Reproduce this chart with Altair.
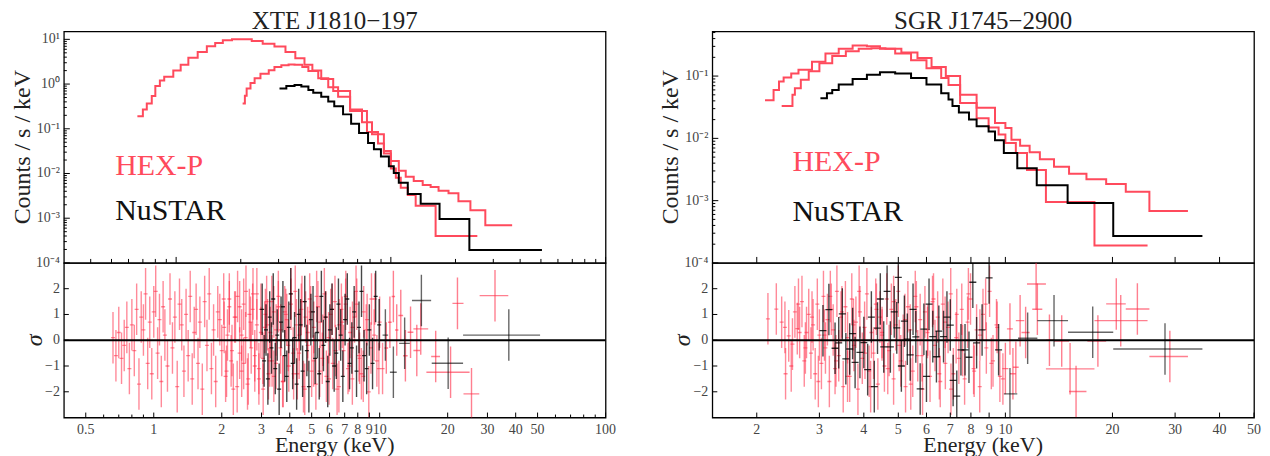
import altair as alt
import pandas as pd

FONT = "Liberation Serif"
RED_LINE = "#ff4a5c"
RED_BAR = "#ff2a45"
LABEL_COLOR = "#444444"
TITLE_COLOR = "#222222"
W = 543
H_TOP = 232
H_RES = 155

# ---------------- top panels: model step curves (bin start energy, counts/s/keV) ----------------
TL_LET_E = [0.66, 0.70, 0.73, 0.77, 0.80, 0.84, 0.88, 0.97, 1.05, 1.14, 1.26, 1.39, 1.52, 1.65, 1.82, 2.00, 2.25, 2.53,
            2.87, 3.23, 3.59, 3.96, 4.31, 4.74, 5.39, 6.46, 7.74, 8.71, 9.28, 10.0, 10.55, 11.12, 11.99, 13.05, 16.16, 25.28]
TL_LET_V = [0.19, 0.27, 0.37, 0.54, 0.90, 1.20, 1.45, 2.0, 2.7, 3.9, 5.2, 7.0, 8.3, 9.5, 10, 10, 9.2, 8.0,
            6.9, 5.2, 3.8, 2.7, 2.0, 1.3, 0.70, 0.25, 0.085, 0.047, 0.028, 0.013, 0.008, 0.0048, 0.0033, 0.0019, 0.0004, 0.0004]
TL_HET_E = [2.04, 2.09, 2.13, 2.22, 2.32, 2.47, 2.70, 2.87, 3.09, 3.34, 3.56, 3.87, 4.13, 4.59, 5.11, 5.68, 6.46, 7.34,
            8.17, 9.28, 10.0, 10.89, 11.73, 12.78, 14.07, 15.32, 16.68, 18.56, 20.64, 23.47, 27.54, 36.72]
TL_HET_V = [0.37, 0.55, 0.8, 1.05, 1.35, 1.7, 2.05, 2.4, 2.65, 2.75, 2.7, 2.4, 1.95, 1.35, 0.85, 0.52, 0.27, 0.14,
            0.075, 0.032, 0.019, 0.0115, 0.0085, 0.0068, 0.0055, 0.005, 0.0041, 0.0036, 0.0024, 0.0015, 0.0007, 0.0007]
TL_NU_E = [3.03, 3.26, 3.56, 3.83, 4.13, 4.35, 4.74, 5.11, 5.45, 5.99, 6.53, 7.11, 7.83, 8.34, 8.99, 9.79, 10.32,
           10.89, 11.99, 13.77, 16.86, 23.21, 50.55]
TL_NU_V = [0.80, 0.90, 0.95, 0.88, 0.74, 0.64, 0.52, 0.41, 0.32, 0.21, 0.13, 0.08, 0.048, 0.035, 0.024, 0.0145, 0.0103,
           0.0062, 0.0035, 0.0021, 0.00096, 0.000195, 0.000195]

TR_LET_E = [2.11, 2.23, 2.31, 2.38, 2.50, 2.62, 2.86, 3.12, 3.40, 3.72, 4.08, 4.44, 4.90, 5.43, 6.00, 6.60, 6.92, 7.46,
            8.30, 8.97, 9.57, 10.0, 10.7, 11.5, 13.0, 17.8, 25.1]
TR_LET_V = [0.041, 0.060, 0.082, 0.095, 0.11, 0.126, 0.17, 0.23, 0.275, 0.31, 0.30, 0.275, 0.23, 0.18, 0.134, 0.093,
            0.072, 0.037, 0.021, 0.015, 0.0115, 0.0084, 0.0058, 0.0031, 0.00095, 0.00019, 0.00019]
TR_HET_E = [2.35, 2.52, 2.56, 2.66, 2.80, 3.00, 3.26, 3.56, 3.87, 4.20, 4.60, 5.10, 5.66, 6.20, 6.80, 7.46, 8.30, 9.35,
            10.0, 10.4, 11.0, 11.7, 12.5, 13.7, 15.1, 16.9, 19.2, 21.8, 25.4, 32.6]
TR_HET_V = [0.033, 0.05, 0.064, 0.087, 0.12, 0.16, 0.21, 0.25, 0.275, 0.28, 0.275, 0.24, 0.195, 0.14, 0.1, 0.05, 0.031,
            0.0177, 0.0147, 0.0095, 0.0076, 0.006, 0.0046, 0.0035, 0.0027, 0.0022, 0.00185, 0.00139, 0.00068, 0.00068]
TR_NU_E = [3.02, 3.15, 3.26, 3.40, 3.72, 4.08, 4.44, 4.90, 5.43, 6.00, 6.60, 6.92, 7.10, 7.40, 7.90, 8.30, 8.97, 9.35,
           9.90, 10.8, 12.25, 14.96, 20.1, 35.8]
TR_NU_V = [0.044, 0.053, 0.06, 0.073, 0.09, 0.105, 0.115, 0.11, 0.093, 0.073, 0.053, 0.042, 0.033, 0.026, 0.02, 0.0156,
           0.0129, 0.0093, 0.0058, 0.0033, 0.00177, 0.00092, 0.00027, 0.00027]

# ---------------- residual panels (energy, sigma) ----------------
L_LET_E = [0.66, 0.68, 0.70, 0.72, 0.74, 0.76, 0.78, 0.80, 0.82, 0.84, 0.86, 0.88, 0.90, 0.92, 0.94, 0.96, 0.98, 1.00,
           1.02, 1.04, 1.06, 1.08, 1.10, 1.12, 1.15, 1.18, 1.21, 1.24, 1.27, 1.30, 1.33, 1.36, 1.39, 1.42, 1.45, 1.48,
           1.51, 1.54, 1.57, 1.60, 1.64, 1.68, 1.72, 1.76, 1.80, 1.84, 1.88, 1.92, 1.96, 2.00, 2.04, 2.08, 2.12, 2.16,
           2.20, 2.25, 2.30, 2.35, 2.40, 2.45, 2.50, 2.55, 2.60, 2.65, 2.70, 2.75, 2.80, 2.86, 2.92, 2.98, 3.04, 3.10,
           3.16, 3.22, 3.28, 3.34, 3.40, 3.48, 3.56, 3.65, 3.74, 3.84, 3.94, 4.05, 4.16, 4.28, 4.40, 4.53, 4.66, 4.80,
           4.95, 5.10, 5.26, 5.43, 5.60, 5.78, 5.97, 6.17, 6.38, 6.60, 6.83, 7.07, 7.32, 7.58, 7.86, 8.15, 8.46, 8.80,
           9.15, 9.52, 9.92]
L_LET_R = [0.1, -0.6, 0.3, -0.7, -0.2, 0.5, -1.1, 0.6, -0.4, 1.2, -1.7, 0.9, 0.4, 1.8, -0.9, 0.7, -1.3, 1.1, 1.9, -0.5,
           0.8, -1.6, 1.3, 0.2, -1.0, 1.6, -0.3, 0.9, -1.8, 1.4, 0.6, -1.2, 1.0, -0.6, 1.7, -1.5, 0.3, 1.2, -0.9, 0.7,
           -1.9, 1.5, -0.2, 1.8, -1.1, 0.4, -1.6, 1.1, 0.8, -0.4, 1.6, -1.4, 0.2, 1.3, -0.8, -1.9, 0.9, 1.7, -0.5, -1.2,
           1.4, 0.1, -1.7, 1.0, -0.3, 1.8, -1.0, 0.6, -1.5, 1.2, -0.7, 0.5, 1.5, -1.3, 0.3, -0.8, 1.1,
           -0.9, 1.3, 0.4, -1.6, 1.0, -0.2, 1.8, -1.3, 0.6, -0.5, 1.5, -1.9, 0.3, 1.1, -0.8, 1.7, -1.2, 0.0, 0.9, -1.5,
           1.2, -0.4, -1.8, 0.7, 1.4, -1.0, 0.5, 1.9, -0.7, -1.4, 0.8, -0.3, 1.6, -1.1]
L_HET_E = [2.05, 2.10, 2.16, 2.22, 2.28, 2.34, 2.40, 2.45, 2.50, 2.56, 2.62, 2.68, 2.74, 2.80, 2.86, 2.92, 2.98, 3.05,
           3.12, 3.19, 3.26, 3.33, 3.40, 3.48, 3.56, 3.64, 3.72, 3.80, 3.88, 3.96, 4.05, 4.14, 4.23, 4.32, 4.41, 4.50,
           4.60, 4.70, 4.80, 4.90, 5.00, 5.11, 5.22, 5.33, 5.45, 5.57, 5.69, 5.81, 5.94, 6.07, 6.20, 6.34, 6.48, 6.62,
           6.77, 6.92, 7.08, 7.24, 7.40, 7.57, 7.74, 7.92, 8.10, 8.30, 8.50, 8.72, 8.95, 9.20, 9.45, 9.72, 10.0, 10.3]
L_HET_R = [0.5, -1.2, 1.6, -0.4, 0.9, -1.8, 1.3, 0.2, -0.9, 1.9, -1.5, 0.7, 1.2, -0.6, 1.8, -1.1, 0.3, -1.9, 1.0, 0.6,
           -0.8, 1.5, -1.4, 0.4, 1.7, -0.3, -1.6, 1.1, 0.8, -1.0, 1.4, -0.5, 1.9, -1.3, 0.2, 1.2, -1.8, 0.9, -0.2, 1.6,
           -1.2, 0.5, -1.7, 1.3, 0.7, -0.7, 1.8, -1.4, 0.1, 1.0, -0.9, 1.5, -1.9, 0.6, 1.2, -0.4, 1.7, -1.1, 0.3, -1.5,
           0.9, 1.4, -0.6, -1.3, 1.1, 0.4, -2.0, 1.6, 0.2, -0.8, 0.7, -1.1]
L_RED_SP_E = [10.7, 11.1, 11.5, 11.9, 12.4, 13.0, 13.7, 14.6, 15.2, 17.7, 20.6, 22.1, 25.5, 32.4]
L_RED_SP_LO = [10.5, 10.9, 11.3, 11.7, 12.1, 12.7, 13.3, 14.1, 14.1, 16.9, 16.1, 21.0, 23.5, 27.7]
L_RED_SP_HI = [10.9, 11.3, 11.7, 12.1, 12.7, 13.3, 14.1, 15.1, 16.4, 18.5, 25.0, 23.5, 27.6, 37.1]
L_RED_SP_R = [-0.3, 0.7, 1.7, 0.4, 0.96, -0.6, 0.31, -0.4, 0.44, -0.63, -1.24, 1.43, -2.08, 1.73]

L_NU_E = [3.02, 3.08, 3.14, 3.20, 3.26, 3.32, 3.38, 3.45, 3.52, 3.59, 3.66, 3.73, 3.80, 3.88, 3.96, 4.04, 4.12, 4.20,
          4.29, 4.38, 4.47, 4.56, 4.66, 4.76, 4.86, 4.96, 5.07, 5.18, 5.29, 5.40, 5.52, 5.64, 5.76, 5.89, 6.02, 6.15,
          6.29, 6.43, 6.57, 6.72, 6.87, 7.03, 7.19, 7.36, 7.53, 7.71, 7.90, 8.10, 8.31, 8.53, 8.76, 9.00, 9.30, 9.60, 9.95]
L_NU_R = [1.2, -0.8, 0.4, -1.5, 0.9, -0.3, 1.6, -1.1, 0.2, -1.9, 0.7, 1.3, -0.6, -1.4, 0.5, 1.8, -0.9, 0.1, -1.7, 1.0,
          0.6, -1.2, 1.5, -0.4, -1.8, 0.8, 1.1, -0.7, 0.3, -1.3, 1.7, -0.2, 0.9, -1.6, 0.4, 1.2, -1.0, -0.5, 1.4, 0.2,
          -1.4, 0.8, 1.6, -0.9, -0.3, 1.1, -1.2, 0.5, 1.9, -0.6, -1.1, 0.4, -0.9, 1.7, 0.6]
L_NU_SP_E = [10.6, 11.5, 12.9, 15.3, 20.1, 37.3]
L_NU_SP_LO = [10.3, 11.1, 12.2, 13.9, 17.0, 23.4]
L_NU_SP_HI = [10.9, 11.9, 13.6, 16.9, 23.4, 51.3]
L_NU_SP_R = [0.2, -1.24, -0.12, 1.54, -0.89, 0.2]

R_LET_E = [2.15, 2.27, 2.35, 2.41, 2.46, 2.52, 2.56, 2.60, 2.64, 2.68, 2.72, 2.76, 2.80, 2.84, 2.88, 2.92, 2.96, 3.00,
           3.04, 3.08, 3.12, 3.16, 3.20, 3.24, 3.28, 3.32, 3.36, 3.40, 3.45, 3.50, 3.55, 3.60, 3.65, 3.70, 3.75, 3.80,
           3.85, 3.90, 3.96, 4.02, 4.08, 4.14, 4.20, 4.26, 4.32, 4.38, 4.44, 4.50, 4.57, 4.64, 4.71, 4.78, 4.85, 4.92,
           5.00, 5.08, 5.16, 5.24, 5.32, 5.40, 5.49, 5.58, 5.67, 5.76, 5.85, 5.94, 6.04, 6.14, 6.24, 6.34, 6.45, 6.56,
           6.67, 6.78, 6.90, 7.02, 7.14, 7.27, 7.40, 7.54, 7.68, 7.83, 7.98, 8.14, 8.30, 8.47, 8.65, 8.84, 9.03, 9.23,
           9.44, 9.65]
R_LET_R = [0.83, 1.21, 0.7, -1.3, 0.17, -0.15, 1.1, 0.45, 0.3, 1.5, -0.8, 0.3, 1.0, -0.5, 0.6, -1.3, 1.4, 0.2, -0.9, 1.7,
           -0.3, 0.8, -1.6, 1.2, 0.4, -1.1, 1.9, -0.6, 0.9, -1.8, 1.3, 0.1, -1.4, 1.6, -0.2, 0.7, -1.9, 1.1, -0.7, 0.5,
           1.8, -1.2, 0.3, -0.5, 1.4, -1.7, 0.9, 0.2, -1.0, 1.6, -0.4, 1.2, -1.5, 0.6, 1.9, -0.8, 0.0, -1.8, 1.3, 0.4,
           -1.2, 1.7, -0.6, 0.8, -1.9, 1.1, 0.3, -1.4, 1.5, -0.2, 0.9, -1.6, 1.4, -0.9, 0.5, 1.8, -1.3, 0.1, -0.7, 1.2,
           -1.5, 0.7, 1.6, -1.1, 0.4, -1.8, 1.0, -0.3, 1.9, -0.8, 0.6, -1.4]
R_HET_E = [2.40, 2.50, 2.62, 2.74, 2.86, 2.98, 3.10, 3.22, 3.34, 3.47, 3.60, 3.74, 3.88, 4.03, 4.18, 4.34, 4.50, 4.67,
           4.85, 5.03, 5.22, 5.42, 5.62, 5.83, 6.05, 6.28, 6.52, 6.77, 7.03, 7.30, 7.58, 7.87, 8.17, 8.48, 8.80, 9.13,
           9.48, 9.84]
R_HET_R = [0.5, -1.0, 1.4, -0.3, 0.9, -1.6, 0.2, 1.7, -0.8, 1.1, -1.4, 0.6, 1.9, -0.5, -1.8, 1.2, 0.3, -1.1, 1.5, -0.2,
           0.8, -1.7, 1.3, -0.6, 0.4, 1.6, -1.3, 0.7, -1.9, 1.0, -0.4, 1.8, -1.2, 0.2, 1.4, -0.9, 0.5, -1.5]
R_RED_SP_E = [10.0, 10.3, 10.5, 10.7, 11.0, 11.4, 12.2, 12.3, 13.3, 14.4, 15.2, 15.8, 18.2, 21.1, 20.5, 23.5, 29.0]
R_RED_SP_LO = [9.8, 10.1, 10.3, 10.5, 10.7, 11.1, 11.5, 11.9, 13.0, 13.7, 13.0, 15.1, 17.0, 17.8, 19.2, 21.8, 25.4]
R_RED_SP_HI = [10.2, 10.5, 10.7, 10.9, 11.3, 11.7, 13.0, 12.7, 13.7, 15.1, 17.8, 16.9, 19.2, 25.1, 21.8, 25.4, 32.6]
R_RED_SP_R = [-1.1, 0.44, -1.3, -1.05, 0.76, 0.3, 2.18, 1.2, 0.0, -0.03, -1.11, -1.99, -0.03, 0.76, 1.41, 1.21, -0.63]

R_NU_E = [3.07, 3.19, 3.32, 3.40, 3.48, 3.56, 3.65, 3.72, 3.78, 3.90, 4.00, 4.10, 4.20, 4.28, 4.37, 4.45, 4.55, 4.65,
          4.75, 4.87, 4.95, 5.00, 5.10, 5.20, 5.30, 5.40, 5.50, 5.60, 5.76, 5.90, 6.00, 6.10, 6.25, 6.40, 6.50, 6.70,
          6.85, 7.00, 7.13, 7.30, 7.50, 7.70, 7.90, 8.10, 8.30, 8.60, 9.00, 9.57]
R_NU_R = [0.37, 1.19, -0.31, -0.1, 1.02, -0.72, -0.34, 0.26, -0.86, -0.47, -0.09, -1.14, 0.9, -1.8, 0.47, 1.6, -0.26,
          1.9, -0.26, 1.1, 0.48, 2.44, -1.0, 0.74, 0.04, -0.57, 1.2, 0.13, -1.89, 0.43, -1.4, 1.4, 0.14, -0.64, 0.35,
          0.14, 0.9, 0.59, -1.56, -2.17, -0.37, -0.37, -0.66, 2.25, -0.1, 0.4, 2.42, -0.37]
R_NU_SP_E = [10.3, 11.55, 13.7, 17.6, 28.1]
R_NU_SP_LO = [9.9, 10.85, 12.3, 15.0, 20.1]
R_NU_SP_HI = [10.8, 12.3, 15.0, 20.1, 35.8]
R_NU_SP_R = [-2.08, 0.08, 0.76, 0.31, -0.34]

# ---------------- tick values and tick label texts ----------------
L_TOP_X_MAJ = [1, 10, 100]
L_TOP_X_MIN = [0.4, 0.5, 0.6, 0.7, 0.8, 0.9, 2, 3, 4, 5, 6, 7, 8, 9, 20, 30, 40, 50, 60, 70, 80, 90]
R_TOP_X_MAJ = [2, 3, 4, 5, 6, 7, 8, 9, 10, 20, 30, 40]
L_RES_X_VAL = [0.5, 1, 2, 3, 4, 5, 6, 7, 8, 9, 10, 20, 30, 40, 50, 100]
L_RES_X_TXT = ["0.5", "1", "2", "3", "4", "5", "6", "7", "8", "9", "10", "20", "30", "40", "50", "100"]
L_RES_X_MIN = [0.6, 0.7, 0.8, 0.9, 60, 70, 80, 90]
R_RES_X_VAL = [2, 3, 4, 5, 6, 7, 8, 9, 10, 20, 30, 40, 50]
R_RES_X_TXT = ["2", "3", "4", "5", "6", "7", "8", "9", "10", "20", "30", "40", "50"]
L_Y_MAJ = [1e-4, 1e-3, 1e-2, 1e-1, 1, 10]
L_Y_TXT = ["10⁻⁴", "10⁻³", "10⁻²", "10⁻¹", "10⁰", "10¹"]
L_Y_MIN = [2e-4, 3e-4, 4e-4, 5e-4, 6e-4, 7e-4, 8e-4, 9e-4, 2e-3, 3e-3, 4e-3, 5e-3, 6e-3, 7e-3, 8e-3, 9e-3,
           0.02, 0.03, 0.04, 0.05, 0.06, 0.07, 0.08, 0.09, 0.2, 0.3, 0.4, 0.5, 0.6, 0.7, 0.8, 0.9, 2, 3, 4, 5, 6, 7, 8, 9]
R_Y_MAJ = [1e-4, 1e-3, 1e-2, 1e-1]
R_Y_TXT = ["10⁻⁴", "10⁻³", "10⁻²", "10⁻¹"]
R_Y_MIN = [2e-4, 3e-4, 4e-4, 5e-4, 6e-4, 7e-4, 8e-4, 9e-4, 2e-3, 3e-3, 4e-3, 5e-3, 6e-3, 7e-3, 8e-3, 9e-3,
           0.02, 0.03, 0.04, 0.05, 0.06, 0.07, 0.08, 0.09, 0.2, 0.3, 0.4, 0.5]
RES_Y = [-2, -1, 0, 1, 2]
RES_Y_TXT = ["−2", "−1", "0", "1", "2"]


def xticks(vals, xs, base, ln):
    return alt.Chart(pd.DataFrame({"v": vals})).mark_rule(color="black", strokeWidth=1).encode(
        x=alt.X("v:Q", scale=xs, axis=None), y=alt.value(base), y2=alt.value(base - ln))


def yticks(vals, ys, ln):
    return alt.Chart(pd.DataFrame({"v": vals})).mark_rule(color="black", strokeWidth=1).encode(
        y=alt.Y("v:Q", scale=ys, axis=None), x=alt.value(0), x2=alt.value(ln))


def ylabels(vals, texts, ys):
    return alt.Chart(pd.DataFrame({"v": vals, "t": texts})).mark_text(
        align="right", baseline="middle", font=FONT, fontSize=14, color=LABEL_COLOR).encode(
        y=alt.Y("v:Q", scale=ys, axis=None), x=alt.value(-4), text="t:N")


def xlabels(vals, texts, xs, base):
    return alt.Chart(pd.DataFrame({"v": vals, "t": texts})).mark_text(
        align="center", baseline="top", font=FONT, fontSize=14, color=LABEL_COLOR).encode(
        x=alt.X("v:Q", scale=xs, axis=None), y=alt.value(base + 5), text="t:N")


def free_text(txt, x, y, size, angle=0, baseline="middle", style="normal"):
    return alt.Chart(pd.DataFrame({"t": [txt]})).mark_text(
        align="center", baseline=baseline, font=FONT, fontSize=size, color=TITLE_COLOR, angle=angle,
        fontStyle=style).encode(x=alt.value(x), y=alt.value(y), text="t:N")


def top_panel(title, xdom, ydom, curves, ymaj, ytxt, ymin, xmaj, xmin, hex_pos, nu_pos):
    xs = alt.Scale(type="log", domain=xdom)
    ys = alt.Scale(type="log", domain=ydom)
    layers = []
    for E, V, col in curves:
        df = pd.DataFrame({"E": E, "V": V})
        layers.append(alt.Chart(df).mark_line(interpolate="step-after", color=col, strokeWidth=2, clip=True).encode(
            x=alt.X("E:Q", scale=xs, axis=None),
            y=alt.Y("V:Q", scale=ys, axis=None)))
    layers += [xticks(xmaj, xs, H_TOP, 6), xticks(xmin, xs, H_TOP, 4), yticks(ymaj, ys, 6), yticks(ymin, ys, 3),
               ylabels(ymaj, ytxt, ys)]
    for (E, V), txt, col in [(hex_pos, "HEX-P", RED_LINE), (nu_pos, "NuSTAR", "#111111")]:
        layers.append(alt.Chart(pd.DataFrame({"E": [E], "V": [V], "t": [txt]})).mark_text(
            align="left", baseline="alphabetic", font=FONT, fontSize=30, color=col).encode(
            x=alt.X("E:Q", scale=xs, axis=None), y=alt.Y("V:Q", scale=ys, axis=None), text="t:N"))
    layers.append(free_text(title, W / 2, -2, 25, baseline="alphabetic"))
    layers.append(free_text("Counts / s / keV", -41, H_TOP / 2, 24, angle=270))
    return alt.layer(*layers).properties(width=W, height=H_TOP)


def res_panel(xdom, xval, xtxt, xmin, red_sets, red_sparse, nu_set, nu_sparse, nu_tick):
    xs = alt.Scale(type="log", domain=xdom)
    ys = alt.Scale(domain=[-3, 3])
    layers = []

    def bars(df, color, op):
        return alt.Chart(df).transform_calculate(lo="datum.r - 1", hi="datum.r + 1").mark_rule(
            color=color, opacity=op, strokeWidth=1.4, clip=True).encode(
            x=alt.X("E:Q", scale=xs, axis=None),
            y=alt.Y("lo:Q", scale=ys, axis=None),
            y2="hi:Q")

    def marks(df, color, op, size):
        return alt.Chart(df).mark_tick(orient="horizontal", size=size, thickness=1.3, color=color, opacity=op,
                                       clip=True).encode(
            x=alt.X("E:Q", scale=xs, axis=None), y=alt.Y("r:Q", scale=ys, axis=None))

    def xerr(df, color, op):
        return alt.Chart(df).mark_rule(color=color, opacity=op, strokeWidth=1.4, clip=True).encode(
            x=alt.X("elo:Q", scale=xs, axis=None), x2="ehi:Q", y=alt.Y("r:Q", scale=ys, axis=None))

    for E, R in red_sets:
        df = pd.DataFrame({"E": E, "r": R})
        layers.append(bars(df, RED_BAR, 0.55))
        layers.append(marks(df, RED_BAR, 0.55, 4))
    E, LO, HI, R = red_sparse
    sp = pd.DataFrame({"E": E, "elo": LO, "ehi": HI, "r": R})
    layers += [bars(sp, RED_BAR, 0.6), xerr(sp, RED_BAR, 0.6)]
    E, R = nu_set
    df = pd.DataFrame({"E": E, "r": R})
    layers += [bars(df, "#000000", 0.72), marks(df, "#000000", 0.8, nu_tick)]
    E, LO, HI, R = nu_sparse
    sp = pd.DataFrame({"E": E, "elo": LO, "ehi": HI, "r": R})
    layers += [bars(sp, "#000000", 0.6), xerr(sp, "#000000", 0.6)]
    layers.append(alt.Chart(pd.DataFrame({"z": [0]})).mark_rule(color="black", strokeWidth=2).encode(
        y=alt.Y("z:Q", scale=ys, axis=None)))
    layers += [xticks(xval, xs, H_RES, 5), xticks(xmin, xs, H_RES, 3), yticks(RES_Y, ys, 5),
               xlabels(xval, xtxt, xs, H_RES), ylabels(RES_Y, RES_Y_TXT, ys),
               free_text("Energy (keV)", W / 2, H_RES + 35, 22, baseline="alphabetic"),
               free_text("σ", -29, H_RES / 2, 24, angle=270, style="italic")]
    return alt.layer(*layers).properties(width=W, height=H_RES)


top_left = top_panel("XTE J1810−197", [0.3, 100], [1e-4, 15],
                     [(TL_LET_E, TL_LET_V, RED_LINE), (TL_HET_E, TL_HET_V, RED_LINE), (TL_NU_E, TL_NU_V, "#000000")],
                     L_Y_MAJ, L_Y_TXT, L_Y_MIN, L_TOP_X_MAJ, L_TOP_X_MIN, (0.52, 0.0094), (0.52, 0.00093))
top_right = top_panel("SGR J1745−2900", [1.5, 50], [1e-4, 0.52],
                      [(TR_LET_E, TR_LET_V, RED_LINE), (TR_HET_E, TR_HET_V, RED_LINE), (TR_NU_E, TR_NU_V, "#000000")],
                      R_Y_MAJ, R_Y_TXT, R_Y_MIN, R_TOP_X_MAJ, [], (2.52, 0.00295), (2.52, 0.000468))
res_left = res_panel([0.4, 100], L_RES_X_VAL, L_RES_X_TXT, L_RES_X_MIN, [(L_LET_E, L_LET_R), (L_HET_E, L_HET_R)],
                     (L_RED_SP_E, L_RED_SP_LO, L_RED_SP_HI, L_RED_SP_R), (L_NU_E, L_NU_R),
                     (L_NU_SP_E, L_NU_SP_LO, L_NU_SP_HI, L_NU_SP_R), 4)
res_right = res_panel([1.5, 50], R_RES_X_VAL, R_RES_X_TXT, [], [(R_LET_E, R_LET_R), (R_HET_E, R_HET_R)],
                      (R_RED_SP_E, R_RED_SP_LO, R_RED_SP_HI, R_RED_SP_R), (R_NU_E, R_NU_R),
                      (R_NU_SP_E, R_NU_SP_LO, R_NU_SP_HI, R_NU_SP_R), 7)

chart = alt.concat(
    top_left, top_right, res_left, res_right,
    columns=2, spacing={"row": 0, "column": 107}, bounds="flush",
).properties(
    padding={"left": 2, "top": 0, "right": 0, "bottom": 0}
).configure_view(
    stroke="black", strokeWidth=1.3
)

chart.save("out.html", embed_options={"renderer": "svg", "actions": False})
